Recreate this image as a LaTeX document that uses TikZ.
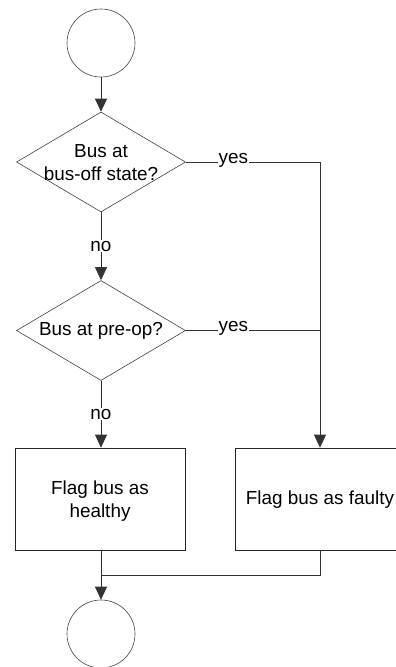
\documentclass[tikz,border=0pt]{standalone}
\usepackage{fontspec}
\setmainfont{Liberation Sans}
\usepackage{tikz}
\usetikzlibrary{shapes.geometric}
\usetikzlibrary{arrows.meta,positioning,calc}

\tikzset{
  terminal/.style={draw=black!75,line width=0.6pt,circle,minimum size=68pt,inner sep=0pt},
  decision/.style={draw=black!75,line width=0.6pt,diamond,minimum width=169pt,minimum height=100pt,inner sep=0pt},
  process/.style={draw=black!85,line width=0.7pt,rectangle,minimum width=170pt,minimum height=102pt,inner sep=0pt},
  flowtext/.style={align=center,font=\fontsize{18.9}{23}\selectfont,inner sep=0pt},
  flowlabel/.style={font=\fontsize{18.9}{23}\selectfont,fill=white,inner sep=1pt},
  flowline/.style={draw=black!80,line width=0.8pt},
  flowarrow/.style={flowline,-{Triangle[width=12pt,length=13pt]}}
}

\begin{document}
\begin{tikzpicture}[x=1pt,y=-1pt]
			\useasboundingbox (0,0) rectangle (396,667);
			% shapes
			\node[terminal] (start) at (101,43) {};
			\node[decision] (q1) at (101,162) {};
			\node[flowtext] (q1text) at (101,163) {Bus at\\bus-off state?};
			\node[decision] (q2) at (101,330.5) {};
			\node[flowtext] (q2text) at (101,331) {Bus at pre-op?};
			\node[process] (healthy) at (100,499) {};
			\node[flowtext] (healthytext) at (100,501) {Flag bus as\\healthy};
			\node[process] (faulty) at (320,499) {};
			\node[flowtext] (faultytext) at (320,500) {Flag bus as faulty};
			\node[terminal] (stop) at (101,634) {};
			\coordinate (join) at (101,575);
			% connectors
			\draw[flowarrow] (start.south) -- (q1.north);
			\draw[flowarrow] (q1.south) -- node[flowlabel,pos=0.5] {no} (q2.north);
			\draw[flowarrow] (q2.south) -- node[flowlabel,pos=0.5] {no} (q2.south |- healthy.north);
			\draw[flowline] (q1.east) -- node[flowlabel,pos=0.355,anchor=base,yshift=-1pt] {yes} (q1.east -| faulty.north);
			\draw[flowline] (q2.east) -- node[flowlabel,pos=0.355,anchor=base,yshift=-1pt] {yes} (q2.east -| faulty.north);
			\draw[flowarrow] (q1.east -| faulty.north) -- (faulty.north);
			\draw[flowarrow] (healthy.south -| stop.north) -- (stop.north);
			\draw[flowline] (faulty.south) |- (join);
		\end{tikzpicture}
\end{document}
